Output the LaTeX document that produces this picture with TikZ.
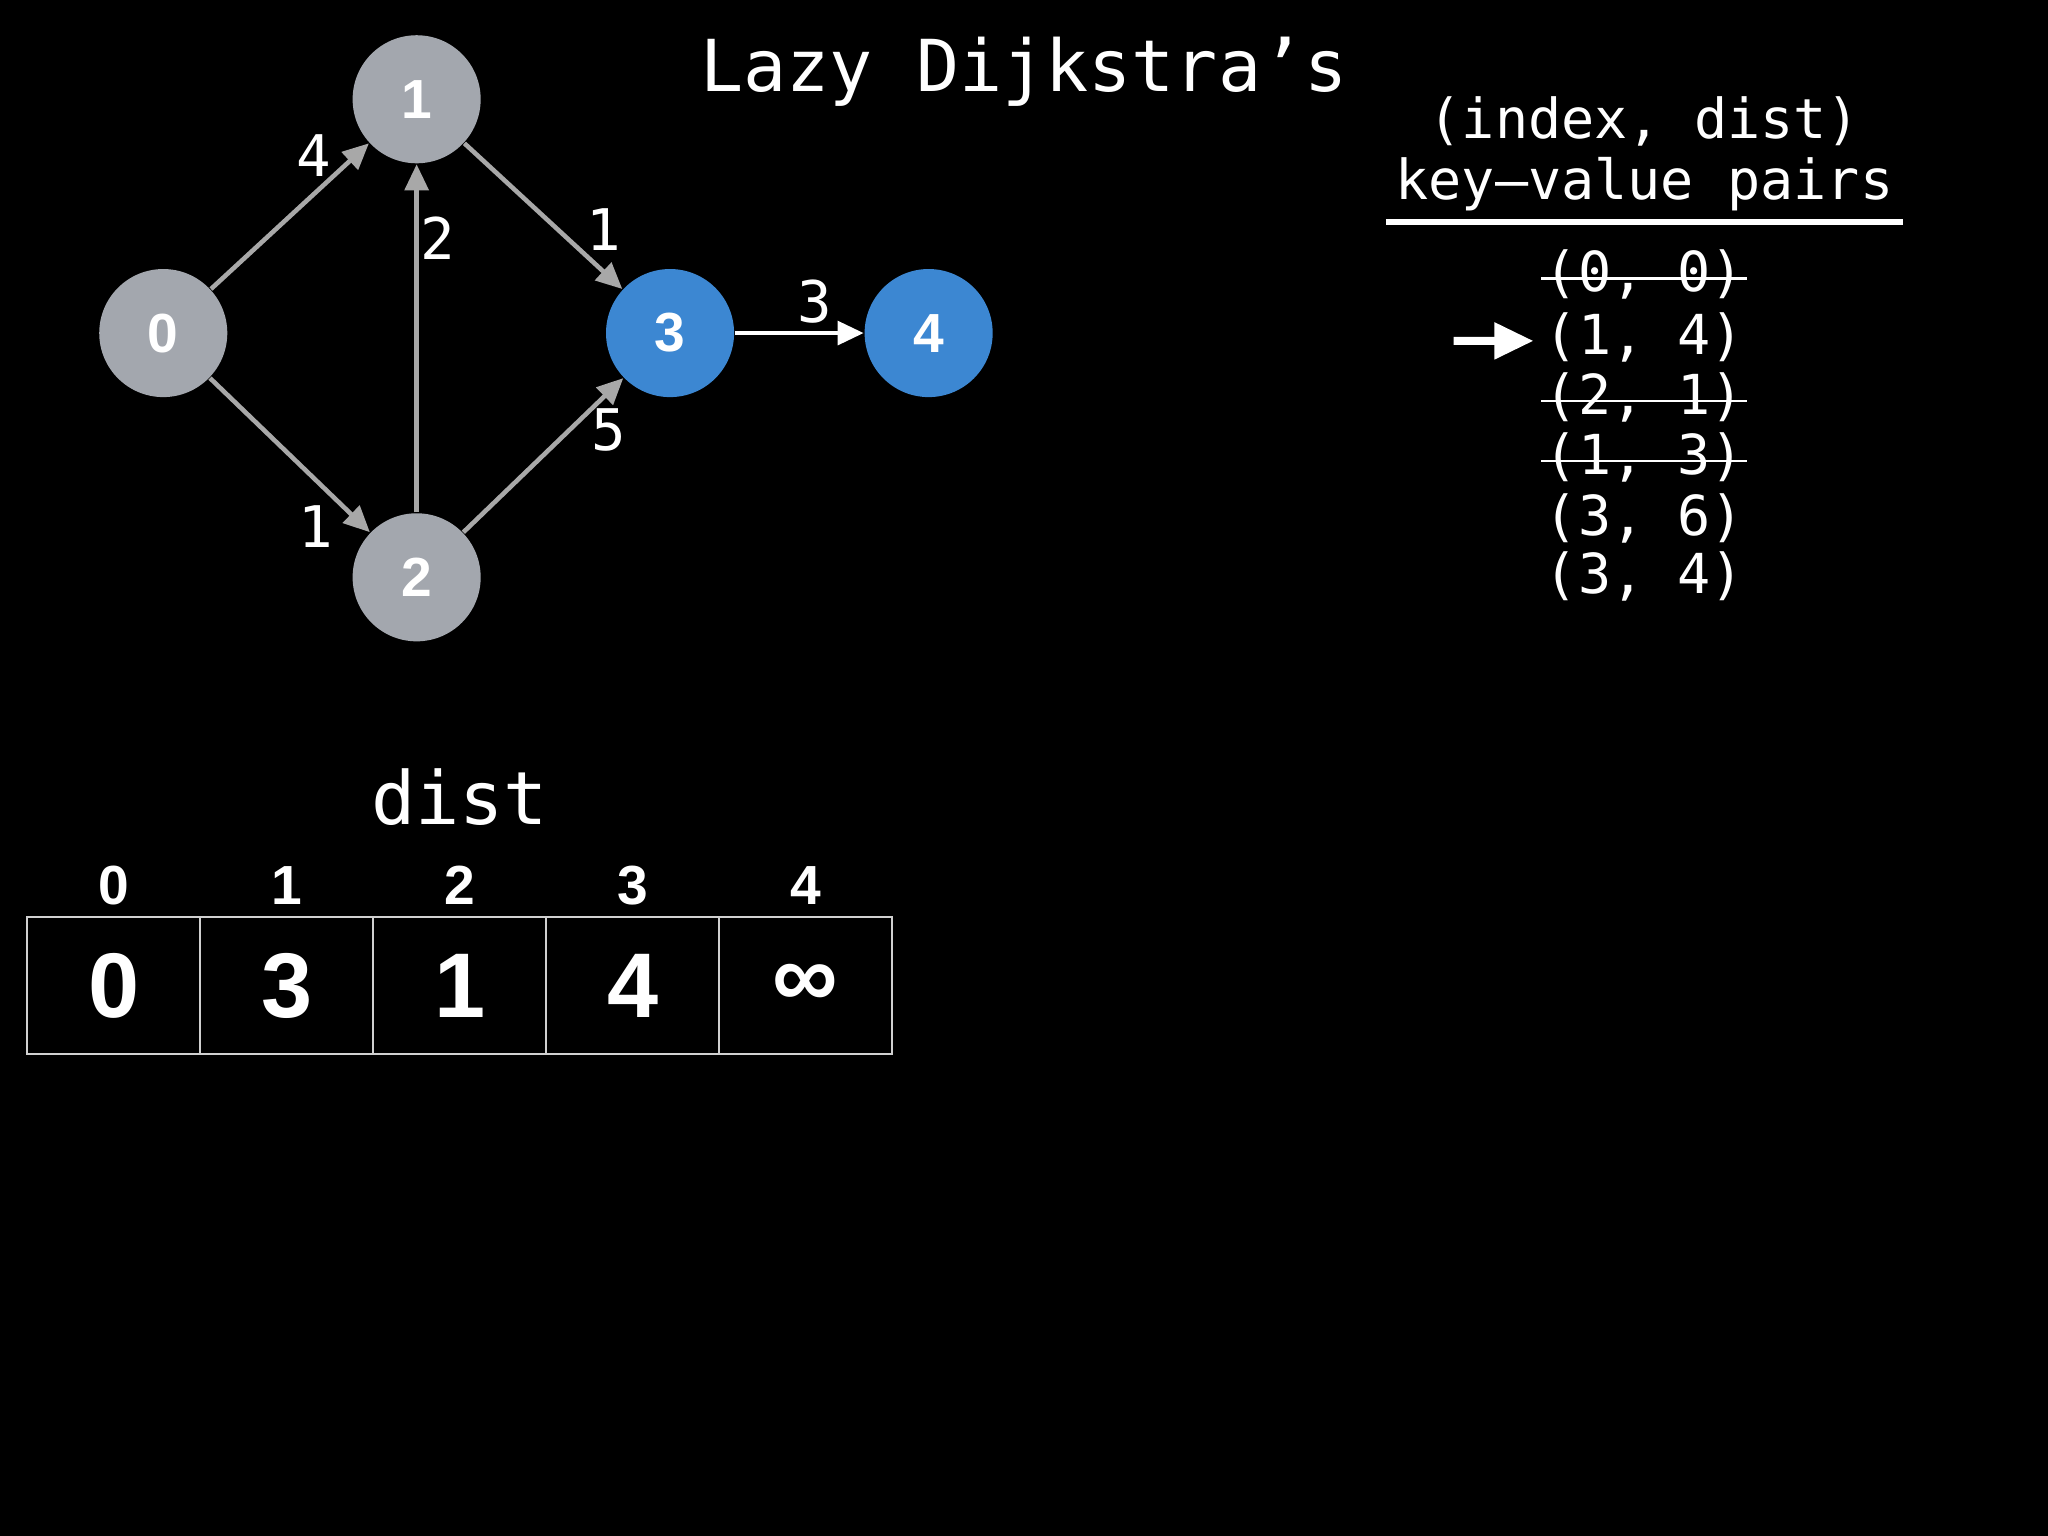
\documentclass[tikz,border=0pt]{standalone}
\usepackage{fontspec}
\setmainfont{Liberation Sans}
\setmonofont{DejaVu Sans Mono}
\usetikzlibrary{arrows.meta}
\definecolor{nodegray}{HTML}{A3A7AE}
\definecolor{nodeblue}{HTML}{3C87D2}
\definecolor{edgegray}{HTML}{A8A8A8}
\definecolor{cellline}{HTML}{D0D0D0}
\tikzset{
  vertex/.style={circle,minimum size=0.98cm,inner sep=0pt,text=white,
    font=\fontsize{12}{12}\selectfont\bfseries},
  edge/.style={draw=edgegray,line width=0.035cm,
    -{Triangle[length=0.2cm,width=0.18cm]}},
  weight/.style={text=white,font=\ttfamily\fontsize{12.5}{12.5}\selectfont},
  mono/.style={text=white,inner sep=0pt,font=\ttfamily\fontsize{12}{12}\selectfont},
  cell/.style={draw=cellline,line width=0.015cm,minimum width=1.324cm,
    minimum height=1.05cm,inner sep=0pt,text=white,
    font=\fontsize{20}{20}\selectfont\bfseries},
  index/.style={text=white,font=\fontsize{12}{12}\selectfont\bfseries}
}
\begin{document}
\begin{tikzpicture}[x=0.01cm,y=-0.01cm]
    % Hintergrund
    \fill[black] (0,0) rectangle (1568,1176);
    \useasboundingbox (0,0) rectangle (1568,1176);
    % Titel
    \node[text=white,font=\ttfamily\fontsize{15.6}{15.6}\selectfont] (title) at (784,55) {Lazy Dijkstra’s};
    % Knoten
    \node[vertex,fill=nodegray] (n0) at (125,255) {0};
    \node[vertex,fill=nodegray] (n1) at (319,76) {1};
    \node[vertex,fill=nodegray] (n2) at (319,442) {2};
    \node[vertex,fill=nodeblue] (n3) at (513,255) {3};
    \node[vertex,fill=nodeblue] (n4) at (711,255) {4};
    % Kanten
    \draw[edge] (n0) -- (n1);
    \draw[edge] (n0) -- (n2);
    \draw[edge] (n2) -- (n1);
    \draw[edge] (n1) -- (n3);
    \draw[edge] (n2) -- (n3);
    \draw[edge,draw=white] (n3) -- (n4);
    % Gewichte
    \node[weight] (w01) at (240,119) {4};
    \node[weight] (w21) at (335,182) {2};
    \node[weight] (w13) at (462,176) {1};
    \node[weight] (w02) at (242,403) {1};
    \node[weight] (w23) at (466,329) {5};
    \node[weight] (w34) at (624,231) {3};
    % Warteschlange
    \node[mono] (h1) at (1259,93) {(index, dist)};
    \node[mono] (h2) at (1259,141) {key–value pairs};
    \draw[white,line width=0.04cm] (1061,170) -- (1457,170);
    \node[mono] (p0) at (1259,210) {(0, 0)};
    \node[mono] (p1) at (1259,258) {(1, 4)};
    \node[mono] (p2) at (1259,304) {(2, 1)};
    \node[mono] (p3) at (1259,350) {(1, 3)};
    \node[mono] (p4) at (1259,397) {(3, 6)};
    \node[mono] (p5) at (1259,441) {(3, 4)};
    % durchgestrichen
    \foreach \p in {p0,p2,p3}
        \draw[white,line width=0.02cm] ([xshift=-0.02cm,yshift=-0.03cm]\p.west) -- ([xshift=0.02cm,yshift=-0.03cm]\p.east);
    % Zeiger
    \coordinate (qa) at (1113,261);
    \draw[white,line width=0.06cm,-{Triangle[length=0.3cm,width=0.27cm]}] (qa) -- ([xshift=-0.08cm,yshift=-0.03cm]p1.west);
    % dist Feld
    \node[text=white,font=\ttfamily\fontsize{16}{16}\selectfont] (dlabel) at (352,610) {dist};
    \foreach \v [count=\i from 0] in {0,3,1,4,∞} {
        \node[cell] (d\i) at ({87.2+132.4*\i},754.5) {\v};
        \node[index] (i\i) at ({87.2+132.4*\i},678) {\i};
    }
\end{tikzpicture}
\end{document}
